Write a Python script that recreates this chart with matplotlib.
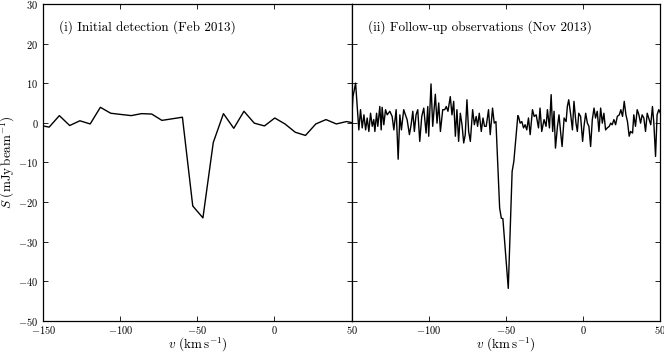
import numpy as np
import matplotlib
matplotlib.use("Agg")
import matplotlib.pyplot as plt

plt.rcParams["font.family"] = "serif"
plt.rcParams["font.serif"] = ["cmr10", "DejaVu Serif"]
plt.rcParams["mathtext.fontset"] = "cm"
plt.rcParams["axes.formatter.use_mathtext"] = True

# panel (i): initial detection, coarse channels
v_feb = [-152.8, -146.1, -139.5, -132.8, -126.2, -119.5, -112.9, -106.2, -99.6, -92.9,
         -86.3, -79.6, -73.0, -66.3, -59.7, -53.0, -46.4, -39.7, -33.1, -26.4,
         -19.8, -13.1, -6.5, 0.2, 6.8, 13.5, 20.1, 26.8, 33.4, 40.1, 46.7, 53.4]
s_feb = [-0.6, -1.1, 1.8, -0.7, 0.5, -0.3, 3.9, 2.4, 2.1, 1.8,
         2.3, 2.2, 0.6, 1.0, 1.4, -21.0, -24.0, -5.0, 2.3, -1.4,
         2.9, -0.1, -0.8, 1.2, -0.3, -2.4, -3.2, -0.3, 0.8, -0.3, 0.3, -0.2]

# panel (ii): follow-up, fine channels
v_nov = [-150.0, -149.1, -147.4, -145.3, -144.2, -143.1, -142.0, -140.9, -139.9, -138.8,
         -137.7, -136.6, -135.6, -134.9, -133.8, -133.0, -131.7, -130.8, -130.2, -129.1,
         -128.0, -126.9, -125.2, -123.7, -122.6, -121.1, -119.8, -118.7, -117.7, -116.8,
         -116.2, -115.1, -114.0, -112.5, -111.4, -110.3, -109.3, -108.2, -107.1, -105.8,
         -104.5, -103.2, -101.7, -100.6, -100.0, -98.5, -97.4, -95.7, -94.6, -93.5,
         -92.4, -90.9, -89.6, -88.6, -87.5, -86.0, -84.9, -83.8, -82.7, -81.7,
         -80.6, -79.5, -78.4, -77.3, -76.3, -75.2, -74.1, -73.0, -71.5, -70.4,
         -69.2, -68.3, -67.2, -65.9, -64.8, -63.8, -62.7, -61.2, -60.1, -58.6,
         -57.5, -56.4, -54.0, -52.9, -51.9, -48.4, -45.9, -44.8, -42.2, -41.8,
         -40.7, -39.6, -38.5, -37.5, -36.4, -35.3, -34.2, -32.7, -31.6, -30.3,
         -28.8, -27.8, -26.7, -25.2, -23.9, -23.0, -21.7, -20.6, -19.6, -18.7,
         -17.8, -16.5, -15.5, -14.4, -13.5, -12.2, -10.9, -10.1, -9.2, -7.9,
         -6.8, -5.8, -4.5, -3.6, -2.7, -1.5, -0.2, 0.7, 1.8, 2.9,
         3.9, 5.0, 6.1, 7.2, 8.2, 9.3, 10.4, 11.5, 12.6, 13.6,
         14.7, 15.8, 17.1, 18.0, 19.0, 20.1, 21.2, 22.3, 23.6, 24.6,
         25.7, 26.8, 27.9, 28.9, 30.0, 30.9, 32.2, 33.0, 34.1, 35.2,
         36.3, 37.4, 38.4, 39.5, 40.6, 41.7, 43.0, 44.0, 45.1, 46.0,
         47.1, 48.1, 49.2, 50.3]
s_nov = [0.3, 6.6, 10.0, -1.8, 3.3, -1.3, 2.0, -1.8, 1.2, -2.2,
         2.4, -0.9, 0.8, -2.2, 2.4, -0.9, 4.1, -1.8, 3.9, -0.5,
         3.3, 2.0, 2.9, 1.6, -1.8, 3.3, -9.2, 2.0, -1.8, 1.2,
         3.3, 2.0, 0.8, -3.0, -0.5, 2.9, -2.2, 2.0, 3.3, -4.7,
         1.6, 3.7, -2.6, 4.1, -3.4, 9.8, -0.9, 7.2, -0.1, 5.0,
         -2.2, 3.3, 3.3, 4.1, 2.9, 6.6, 2.0, 5.4, -3.4, 3.3,
         -4.7, 2.4, -0.5, -5.1, -3.0, 5.8, -2.2, -4.7, 3.3, -0.5,
         1.6, -0.9, 2.4, -2.2, 1.2, -0.9, -0.9, 3.3, -3.0, 3.7,
         -0.1, 0.3, -21.5, -24.1, -24.2, -41.8, -12.3, -9.8, 1.8, 1.6,
         -0.1, 0.3, -1.3, -0.5, -1.8, 1.2, -3.0, 3.3, 1.6, 2.0,
         -1.3, 3.7, -2.2, 0.8, -0.9, 3.3, -1.3, 7.1, -2.2, 2.9,
         -6.4, -0.9, 2.0, -2.6, -6.0, 1.2, 0.3, 4.1, 5.8, 2.0,
         -1.8, 5.4, -0.1, -2.2, 2.4, 1.6, -4.7, -0.9, 2.4, -0.1,
         -0.9, -6.0, 0.8, 3.7, 1.2, 2.9, -2.2, 3.7, -0.1, 2.4,
         -1.8, -1.3, -0.9, -0.1, -0.5, 0.8, -0.5, 1.6, 2.0, 3.3,
         1.6, 5.4, 2.0, 0.3, -3.4, -2.2, -2.6, 2.0, -0.9, 3.3,
         2.0, -0.1, 2.0, 1.2, -2.2, 2.4, 0.8, -0.5, 4.1, -0.1,
         -8.5, 2.0, 3.3, 2.4]

x_ticks = [-150, -100, -50, 0, 50]
y_ticks = [-50, -40, -30, -20, -10, 0, 10, 20, 30]
labels = ["(i) Initial detection (Feb 2013)",
          "(ii) Follow-up observations (Nov 2013)"]

fig, axes = plt.subplots(1, 2, figsize=(6.64, 3.53), dpi=100, sharey=True)
fig.subplots_adjust(left=0.065, right=0.994, bottom=0.091, top=0.989, wspace=0)

for ax, v, s, lab in zip(axes, [v_feb, v_nov], [s_feb, s_nov], labels):
    ax.plot(v, s, color="black", lw=1.0)
    ax.set_xlim(-150, 50)
    ax.set_ylim(-50, 30)
    ax.set_xticks(x_ticks)
    ax.set_yticks(y_ticks)
    ax.tick_params(direction="in", top=True, right=True, length=3.5, width=0.6,
                   labelsize=7.5, colors="black")
    ax.tick_params(axis="x", pad=2)
    for sp in ax.spines.values():
        sp.set_linewidth(0.9)
    ax.text(0.052, 0.928, lab, transform=ax.transAxes, fontsize=9.5, va="center")
    ax.set_xlabel(r"$v\ (\mathrm{km\,s^{-1}})$", fontsize=9.5)
    ax.xaxis.set_label_coords(0.5, -0.046)

axes[0].set_ylabel(r"$S\ (\mathrm{mJy\,beam^{-1}})$", fontsize=9.5)
axes[0].yaxis.set_label_coords(-0.085, 0.5)
axes[1].tick_params(labelleft=False)
axes[1].xaxis.get_major_ticks()[0].label1.set_visible(False)

fig.savefig("out.png", dpi=100)
